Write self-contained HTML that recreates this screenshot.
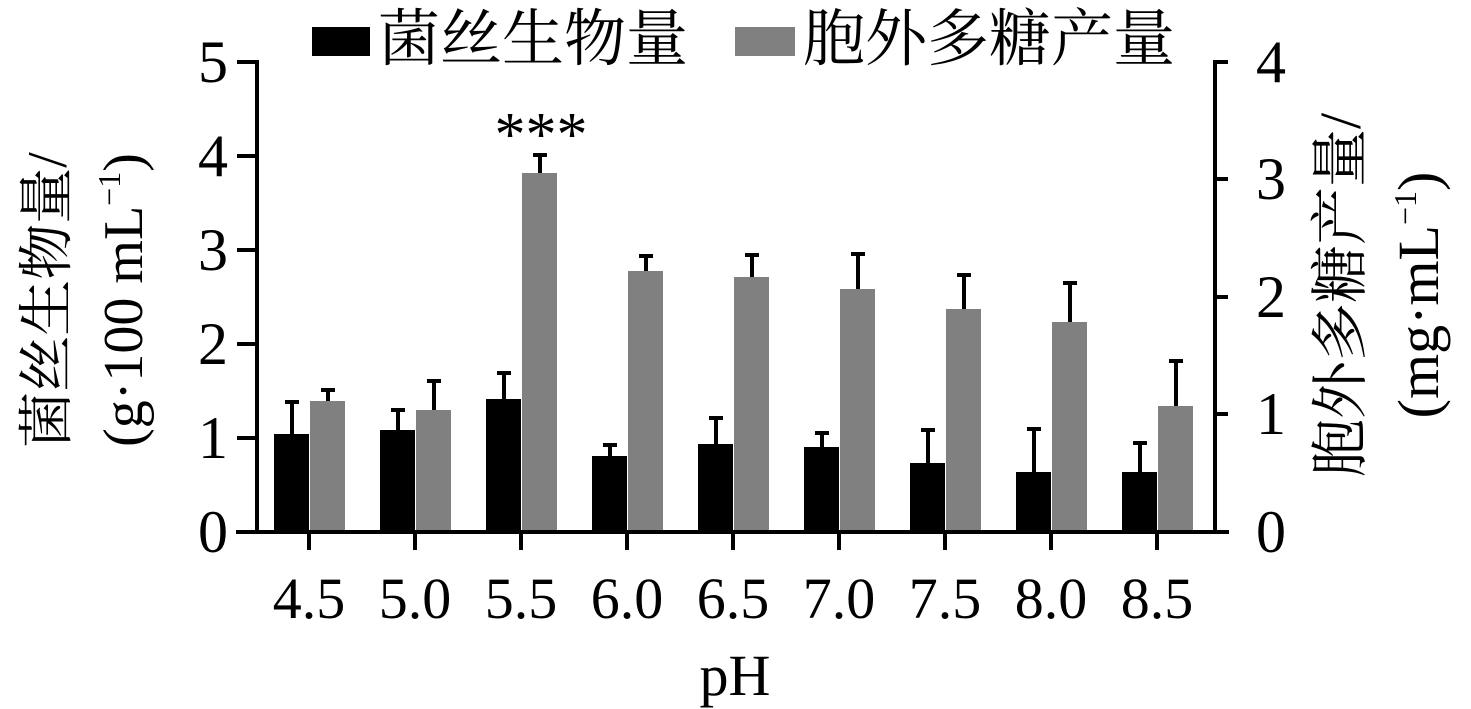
<!DOCTYPE html>
<html><head><meta charset="utf-8"><style>
html,body{margin:0;padding:0;background:#fff;}
svg{display:block;}
text{font-family:"Liberation Serif","Noto Serif CJK SC",serif;fill:#000;}
</style></head><body>
<svg width="1471" height="709" viewBox="0 0 1471 709" xmlns="http://www.w3.org/2000/svg">
<g fill="#000">
<rect x="274" y="434" width="35" height="98"/>
<rect x="380" y="430" width="35" height="102"/>
<rect x="486" y="399" width="35" height="133"/>
<rect x="592" y="456" width="35" height="76"/>
<rect x="698" y="444" width="35" height="88"/>
<rect x="804" y="447" width="35" height="85"/>
<rect x="910" y="463" width="35" height="69"/>
<rect x="1016" y="472" width="35" height="60"/>
<rect x="1122" y="472" width="35" height="60"/>
</g>
<g fill="#808080">
<rect x="310" y="401" width="35" height="131"/>
<rect x="416" y="410" width="35" height="122"/>
<rect x="522" y="173" width="35" height="359"/>
<rect x="628" y="271" width="35" height="261"/>
<rect x="734" y="277" width="35" height="255"/>
<rect x="840" y="289" width="35" height="243"/>
<rect x="946" y="309" width="35" height="223"/>
<rect x="1052" y="322" width="35" height="210"/>
<rect x="1158" y="406" width="35" height="126"/>
</g>
<g stroke="#000" stroke-width="4" fill="none">
<path d="M292 434V402M285 402H299 M328 401V390M321 390H335"/>
<path d="M398 430V410M391 410H405 M434 410V381M427 381H441"/>
<path d="M504 399V373M497 373H511 M540 173V155M533 155H547"/>
<path d="M610 456V445M603 445H617 M646 271V256M639 256H653"/>
<path d="M716 444V418M709 418H723 M752 277V255M745 255H759"/>
<path d="M822 447V433M815 433H829 M858 289V254M851 254H865"/>
<path d="M928 463V430M921 430H935 M964 309V275M957 275H971"/>
<path d="M1034 472V429M1027 429H1041 M1070 322V283M1063 283H1077"/>
<path d="M1140 472V443M1133 443H1147 M1176 406V361M1169 361H1183"/>
<line x1="257" y1="60" x2="257" y2="533"/>
<line x1="1215" y1="60" x2="1215" y2="533"/>
<line x1="236" y1="532" x2="1229" y2="532"/>
<path d="M237 62H257M237 156H257M237 250H257M237 344H257M237 438H257"/>
<path d="M1215 62H1228M1215 179H1228M1215 297H1228M1215 414H1228"/>
<path d="M309 532V550M415 532V550M521 532V550M627 532V550M733 532V550M839 532V550M945 532V550M1051 532V550M1157 532V550"/>
</g>
<g font-size="60" text-anchor="end">
<text x="228" y="82">5</text><text x="228" y="176">4</text><text x="228" y="270">3</text><text x="228" y="364">2</text><text x="228" y="458">1</text><text x="228" y="552">0</text>
</g>
<g font-size="60" text-anchor="start">
<text x="1256" y="82">4</text><text x="1256" y="199">3</text><text x="1256" y="317">2</text><text x="1256" y="434">1</text><text x="1256" y="552">0</text>
</g>
<g font-size="58" text-anchor="middle">
<text x="309" y="618">4.5</text><text x="415" y="618">5.0</text><text x="521" y="618">5.5</text><text x="627" y="618">6.0</text><text x="733" y="618">6.5</text><text x="839" y="618">7.0</text><text x="945" y="618">7.5</text><text x="1051" y="618">8.0</text><text x="1157" y="618">8.5</text>
<text x="735" y="695">pH</text>
<text x="541" y="155" font-size="62">***</text>
</g>
<rect x="312" y="27" width="58" height="29" fill="#000"/>
<text x="378" y="60" font-size="62">菌丝生物量</text>
<rect x="735" y="27" width="60" height="29" fill="#808080"/>
<text x="803" y="60" font-size="62">胞外多糖产量</text>
<text transform="translate(66,300) rotate(-90)" text-anchor="middle" font-size="56">菌丝生物量/</text>
<text transform="translate(142,300) rotate(-90)" text-anchor="middle" font-size="56">(g·100 mL<tspan font-size="32" dy="-22">−1</tspan><tspan dy="22">)</tspan></text>
<text transform="translate(1360,295) rotate(-90)" text-anchor="middle" font-size="58">胞外多糖产量/</text>
<text transform="translate(1438,295) rotate(-90)" text-anchor="middle" font-size="58">(mg·mL<tspan font-size="32" dy="-22">−1</tspan><tspan dy="22">)</tspan></text>
</svg>
</body></html>
